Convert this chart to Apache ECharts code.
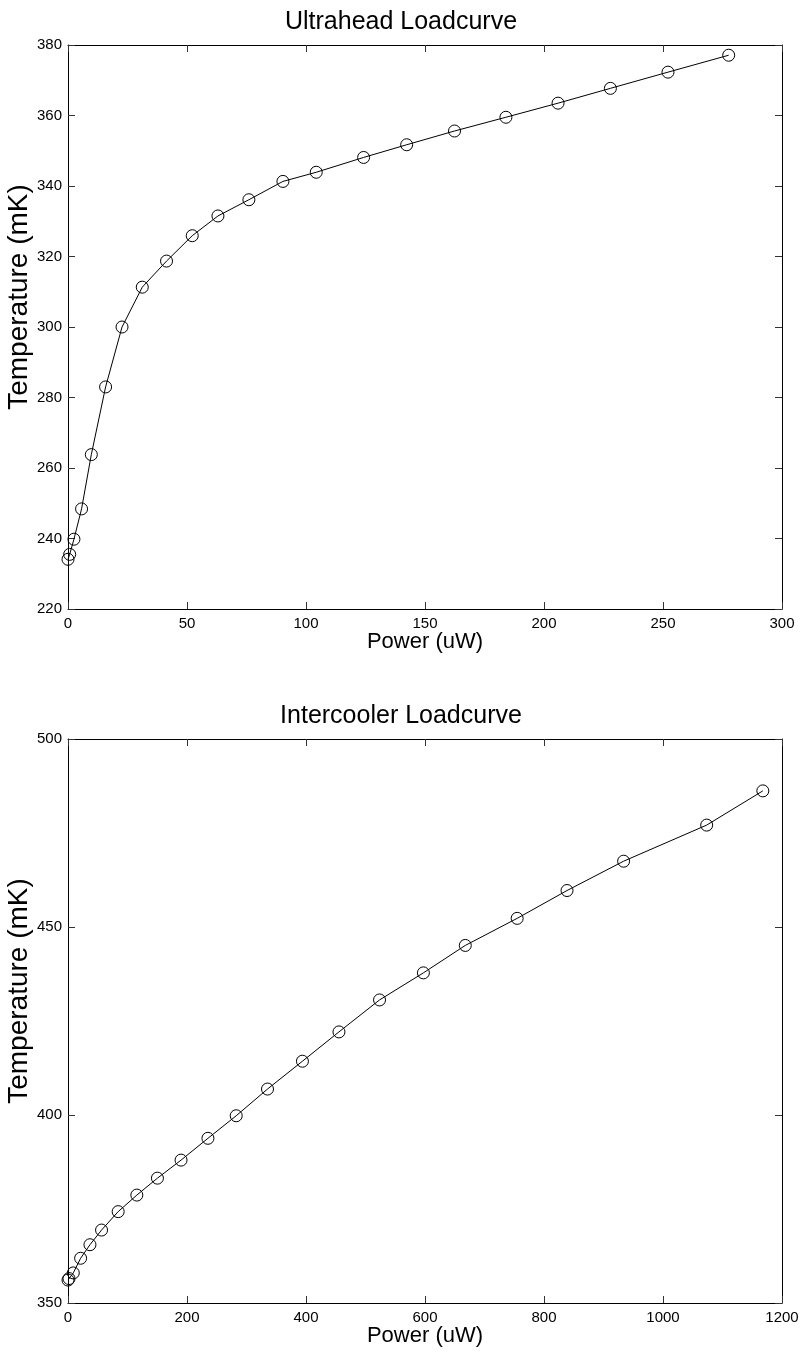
<!DOCTYPE html>
<html>
<head>
<meta charset="utf-8">
<script src="https://cdn.jsdelivr.net/npm/echarts@6/dist/echarts.min.js"></script>
<style>
html,body{margin:0;padding:0;background:#fff;}
#c{width:802px;height:1356px;}
</style>
</head>
<body>
<div id="c"></div>
<script>
// Ultrahead loadcurve
var uhPower = [0, 0.7, 2.5, 5.7, 9.8, 15.8, 22.7, 31.2, 41.4, 52.2, 63.0, 76.0, 90.3, 104.3, 124.2, 142.3, 162.4, 184.0, 205.9, 227.9, 252.1, 277.6];
var uhTemp  = [234.1, 235.5, 239.8, 248.4, 263.8, 283.0, 300.0, 311.3, 318.7, 325.9, 331.5, 336.1, 341.3, 343.9, 348.1, 351.7, 355.6, 359.5, 363.5, 367.7, 372.3, 377.1];
// Intercooler loadcurve
var icPower = [0, 1.7, 8.9, 21.2, 36.9, 56.4, 84.3, 115.7, 150.3, 190.0, 235.2, 282.7, 335.3, 394.0, 455.4, 523.6, 597.3, 667.7, 754.9, 838.7, 933.8, 1073.4, 1167.8];
var icTemp  = [356.1, 356.5, 358.0, 361.9, 365.5, 369.4, 374.3, 378.7, 383.2, 388.0, 393.8, 399.8, 406.9, 414.3, 422.1, 430.6, 437.8, 445.1, 452.3, 459.7, 467.5, 477.1, 486.2];

var titles = ['Ultrahead Loadcurve', 'Intercooler Loadcurve'];
var xName = 'Power (uW)';
var yName = 'Temperature (mK)';
var xRanges = [[0, 300, 50], [0, 1200, 200]];
var yRanges = [[220, 380, 20], [350, 500, 50]];

var FONT = '"Liberation Sans", Arial, Helvetica, sans-serif';

function zip(a, b) { return a.map(function (v, i) { return [v, b[i]]; }); }
function plain(v) { return String(v); }

var gridTops = [45, 739];
var grids = [], xAxes = [], yAxes = [], series = [], titleArr = [];
var datasets = [zip(uhPower, uhTemp), zip(icPower, icTemp)];

for (var g = 0; g < 2; g++) {
  grids.push({ left: 68, width: 714, top: gridTops[g], height: 564, containLabel: false, outerBoundsMode: 'none' });
  titleArr.push({
    text: titles[g], left: 'center', top: gridTops[g] - 40,
    textStyle: { fontFamily: FONT, fontSize: 25, fontWeight: 'normal', color: '#000' }
  });
  var axisLine = { show: true, onZero: false, lineStyle: { color: '#000', width: 1 } };
  var tick = { show: true, inside: true, length: 7, lineStyle: { color: '#333', width: 1 } };
  xAxes.push({
    type: 'value', gridIndex: g, position: 'bottom',
    min: xRanges[g][0], max: xRanges[g][1], interval: xRanges[g][2],
    name: xName, nameLocation: 'middle', nameGap: 22, nameMoveOverlap: false,
    nameTextStyle: { fontFamily: FONT, fontSize: 22, color: '#000' },
    axisLine: axisLine, axisTick: tick, splitLine: { show: false },
    axisLabel: { fontFamily: FONT, fontSize: 15, color: '#000', margin: 7, formatter: plain }
  });
  xAxes.push({
    type: 'value', gridIndex: g, position: 'top',
    min: xRanges[g][0], max: xRanges[g][1], interval: xRanges[g][2],
    axisLine: axisLine, axisTick: tick, splitLine: { show: false },
    axisLabel: { show: false }
  });
  yAxes.push({
    type: 'value', gridIndex: g, position: 'left',
    min: yRanges[g][0], max: yRanges[g][1], interval: yRanges[g][2],
    name: yName, nameLocation: 'middle', nameGap: 35, nameRotate: 90, nameMoveOverlap: false,
    nameTextStyle: { fontFamily: FONT, fontSize: 28, color: '#000', padding: [0, 0, 0, 60] },
    axisLine: axisLine, axisTick: tick, splitLine: { show: false },
    axisLabel: { fontFamily: FONT, fontSize: 15, color: '#000', margin: 6, formatter: plain }
  });
  yAxes.push({
    type: 'value', gridIndex: g, position: 'right',
    min: yRanges[g][0], max: yRanges[g][1], interval: yRanges[g][2],
    axisLine: axisLine, axisTick: tick, splitLine: { show: false },
    axisLabel: { show: false }
  });
  series.push({
    type: 'line', xAxisIndex: 2 * g, yAxisIndex: 2 * g,
    data: datasets[g], clip: false, animation: false,
    symbol: 'circle', symbolSize: 12, showAllSymbol: true,
    lineStyle: { color: '#000', width: 1 },
    itemStyle: { color: 'rgba(255,255,255,0)', borderColor: '#000', borderWidth: 1 }
  });
}

var chart = echarts.init(document.getElementById('c'), null, { renderer: 'canvas' });
chart.setOption({
  backgroundColor: '#fff',
  animation: false,
  title: titleArr,
  grid: grids,
  xAxis: xAxes,
  yAxis: yAxes,
  series: series
});
</script>
</body>
</html>
